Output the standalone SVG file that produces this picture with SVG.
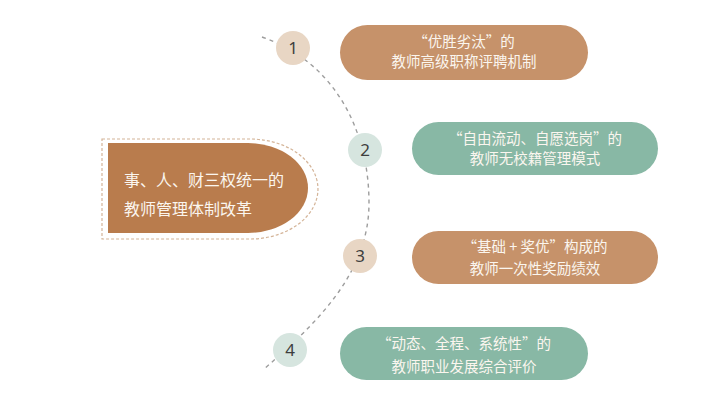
<svg xmlns="http://www.w3.org/2000/svg" width="720" height="410" viewBox="0 0 720 410">
<style>
.cjk{font-family:"Noto Sans CJK SC","Noto Sans",sans-serif;}
.pt{font-size:14.5px;fill:#fbf6ef;text-anchor:middle;}
.mt{font-size:16px;fill:#fbf6ef;}
.num{font-family:"Noto Sans","DejaVu Sans",sans-serif;font-size:17px;fill:#3e3e3e;text-anchor:middle;}
.brown{fill:#c6926a;}
.green{fill:#88b8a5;}
.cb{fill:#e8d6c4;}
.cg{fill:#d6e5df;}
.arc{fill:none;stroke:#9d9d9d;stroke-width:1.4;stroke-dasharray:4 4;}
</style>
<rect width="720" height="410" fill="#ffffff"/>
<g id="connectors">
<path class="arc" d="M262,37 C337,63 369,133 369,203 C369,273 317,323 264,369"/>
</g>
<g id="main">
<path d="M102,139 H250 A68,50 0 0 1 250,239 H102 Z" fill="none" stroke="#d4b498" stroke-width="1.2" stroke-dasharray="3 2"/>
<path d="M108,143 H248 A60,45 0 0 1 248,233 H108 Z" fill="#b97c4d"/>
<text class="cjk mt" x="124" y="186">事、人、财三权统一的</text>
<text class="cjk mt" x="124" y="215">教师管理体制改革</text>
</g>
<g id="n1">
<circle class="cb" cx="293" cy="48" r="17"/>
<text class="num" x="293" y="54">1</text>
</g>
<g id="n2">
<circle class="cg" cx="365" cy="150" r="17"/>
<text class="num" x="365" y="156">2</text>
</g>
<g id="n3">
<circle class="cb" cx="360" cy="256" r="17"/>
<text class="num" x="360" y="262">3</text>
</g>
<g id="n4">
<circle class="cg" cx="290" cy="350" r="17"/>
<text class="num" x="290" y="356">4</text>
</g>
<g id="p1">
<rect class="brown" x="340" y="25" width="248" height="55" rx="27.5"/>
<text class="cjk pt" x="464" y="47">“优胜劣汰”的</text>
<text class="cjk pt" x="464" y="67">教师高级职称评聘机制</text>
</g>
<g id="p2">
<rect class="green" x="412" y="122" width="246" height="53" rx="26.5"/>
<text class="cjk pt" x="535" y="144">“自由流动、自愿选岗”的</text>
<text class="cjk pt" x="535" y="164">教师无校籍管理模式</text>
</g>
<g id="p3">
<rect class="brown" x="412" y="231" width="246" height="53" rx="26.5"/>
<text class="cjk pt" x="535" y="252">“基础 + 奖优”构成的</text>
<text class="cjk pt" x="535" y="274">教师一次性奖励绩效</text>
</g>
<g id="p4">
<rect class="green" x="340" y="327" width="248" height="53" rx="26.5"/>
<text class="cjk pt" x="464" y="349">“动态、全程、系统性”的</text>
<text class="cjk pt" x="464" y="372">教师职业发展综合评价</text>
</g>
</svg>
